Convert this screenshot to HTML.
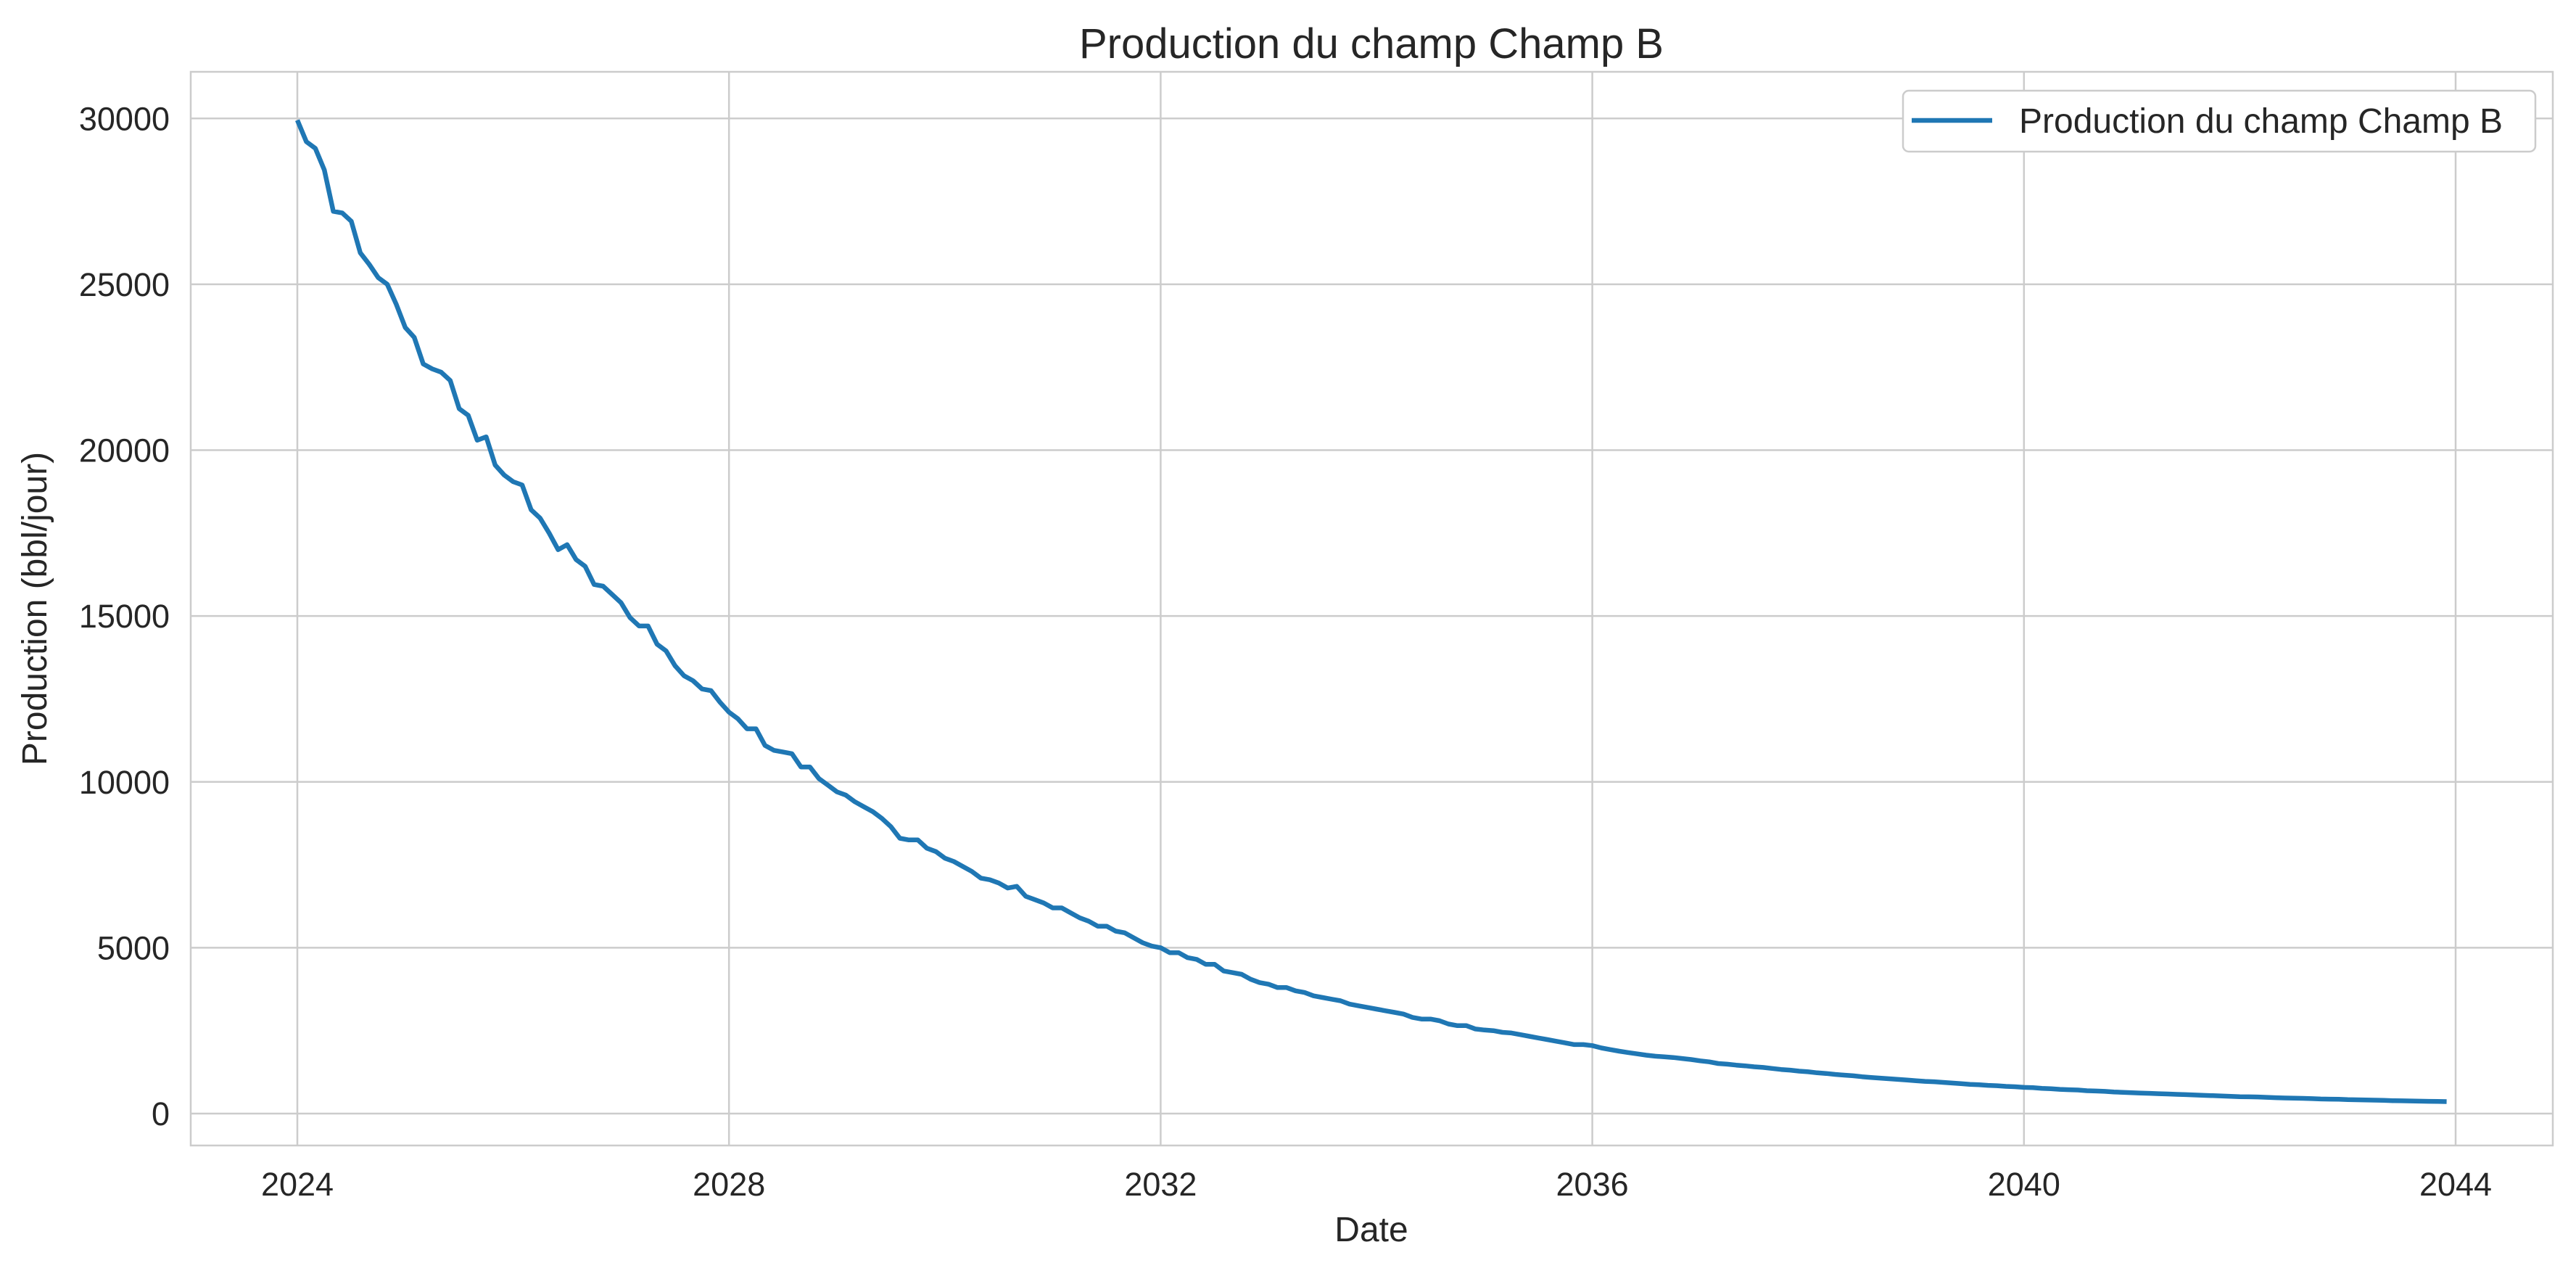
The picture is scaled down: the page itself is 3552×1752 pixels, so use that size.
<!DOCTYPE html>
<html><head><meta charset="utf-8"><style>
html,body{margin:0;padding:0;background:#fff}
svg{display:block;font-family:"Liberation Sans","DejaVu Sans",sans-serif}
</style></head><body>
<svg id="chart" width="3552" height="1752" viewBox="0 0 3552 1752" xmlns="http://www.w3.org/2000/svg">
<rect x="0" y="0" width="3552" height="1752" fill="#fff"/>
<g id="grid"></g>
<g id="ticks"></g>
<rect x="263" y="99" width="3257" height="1480" fill="none" stroke="#cccccc" stroke-width="2.5"/>
<path id="line" fill="none" stroke="#1f77b4" stroke-width="6.5" stroke-linejoin="round"/>
<text x="1891" y="80" text-anchor="middle" font-size="58" fill="#262626">Production du champ Champ B</text>
<text x="1891" y="1711" text-anchor="middle" font-size="48" fill="#262626">Date</text>
<text transform="translate(64,839) rotate(-90)" text-anchor="middle" font-size="48" fill="#262626">Production (bbl/jour)</text>
<g>
<rect x="2624" y="125" width="872" height="84" rx="8" fill="#fff" stroke="#cccccc" stroke-width="2.5"/>
<line x1="2636" y1="166" x2="2747" y2="166" stroke="#1f77b4" stroke-width="6.5"/>
<text x="2784" y="183" font-size="48" fill="#262626">Production du champ Champ B</text>
</g>
</svg>
<script>
const yTicks = [0, 5000, 10000, 15000, 20000, 25000, 30000];
const xTickYears = [2024, 2028, 2032, 2036, 2040, 2044];
const startYear = 2024;
const production = [
29950,29300,29100,28450,27200,27150,26900,25950,25600,25200,25000,24400,
23700,23400,22600,22450,22350,22100,21250,21050,20300,20400,19550,19250,
19050,18950,18200,17950,17500,17000,17150,16700,16500,15950,15900,15650,
15400,14950,14700,14700,14150,13950,13500,13200,13050,12800,12750,12400,
12100,11900,11600,11600,11100,10950,10900,10850,10450,10450,10100,9900,
9700,9600,9400,9250,9100,8900,8650,8300,8250,8250,8000,7900,
7700,7600,7450,7300,7100,7050,6950,6800,6850,6550,6450,6350,
6200,6200,6050,5900,5800,5650,5650,5500,5450,5300,5150,5050,
5000,4850,4850,4700,4650,4500,4500,4300,4250,4200,4050,3950,
3900,3800,3800,3700,3650,3550,3500,3450,3400,3300,3250,3200,
3150,3100,3050,3000,2900,2850,2850,2800,2700,2650,2650,2550,
2520,2500,2450,2430,2380,2330,2280,2230,2180,2130,2080,2080,
2050,1980,1930,1880,1840,1800,1760,1730,1710,1690,1660,1630,
1590,1560,1510,1490,1460,1440,1410,1390,1360,1330,1310,1280,
1260,1230,1210,1180,1160,1140,1110,1090,1070,1050,1030,1010,
990,970,960,940,920,900,880,870,850,840,820,810,
790,780,760,750,730,720,710,690,680,670,650,640,
630,620,610,600,590,580,570,560,550,540,530,520,
510,505,500,490,480,470,465,460,450,440,435,430,
420,415,410,405,400,390,385,380,375,370,365,360];

const NS = 'http://www.w3.org/2000/svg';
const X0 = 410, PXYR = (3386 - 410) / 20;
const Y0 = 1535, PXV = (1535 - 163.3) / 30000;
function xs(t) { return X0 + (t - 2024) * PXYR; }
function ys(v) { return Y0 - v * PXV; }

const grid = document.getElementById('grid');
const ticks = document.getElementById('ticks');
yTicks.forEach(v => {
  const l = document.createElementNS(NS, 'line');
  
  
  l.setAttribute('x1', 263); l.setAttribute('x2', 3520);
  l.setAttribute('y1', ys(v)); l.setAttribute('y2', ys(v));
  l.setAttribute('stroke', '#cccccc'); l.setAttribute('stroke-width', '2.5');
  grid.appendChild(l);
  const t = document.createElementNS(NS, 'text');
  
  
  t.setAttribute('x', 234); t.setAttribute('y', ys(v) + 16);
  t.setAttribute('text-anchor', 'end'); t.setAttribute('font-size', '45'); t.setAttribute('fill', '#262626');
  t.textContent = String(v);
  ticks.appendChild(t);
});
xTickYears.forEach(yr => {
  const l = document.createElementNS(NS, 'line');
  
  
  l.setAttribute('x1', xs(yr)); l.setAttribute('x2', xs(yr));
  l.setAttribute('y1', 99); l.setAttribute('y2', 1579);
  l.setAttribute('stroke', '#cccccc'); l.setAttribute('stroke-width', '2.5');
  grid.appendChild(l);
  const t = document.createElementNS(NS, 'text');
  
  
  t.setAttribute('x', xs(yr)); t.setAttribute('y', 1648);
  t.setAttribute('text-anchor', 'middle'); t.setAttribute('font-size', '45'); t.setAttribute('fill', '#262626');
  t.textContent = String(yr);
  ticks.appendChild(t);
});
let d = '';
production.forEach((v, i) => {
  const t = startYear + i / 12;
  d += (i ? 'L' : 'M') + xs(t).toFixed(1) + ' ' + ys(v).toFixed(1);
});
document.getElementById('line').setAttribute('d', d);
</script>
</body></html>
